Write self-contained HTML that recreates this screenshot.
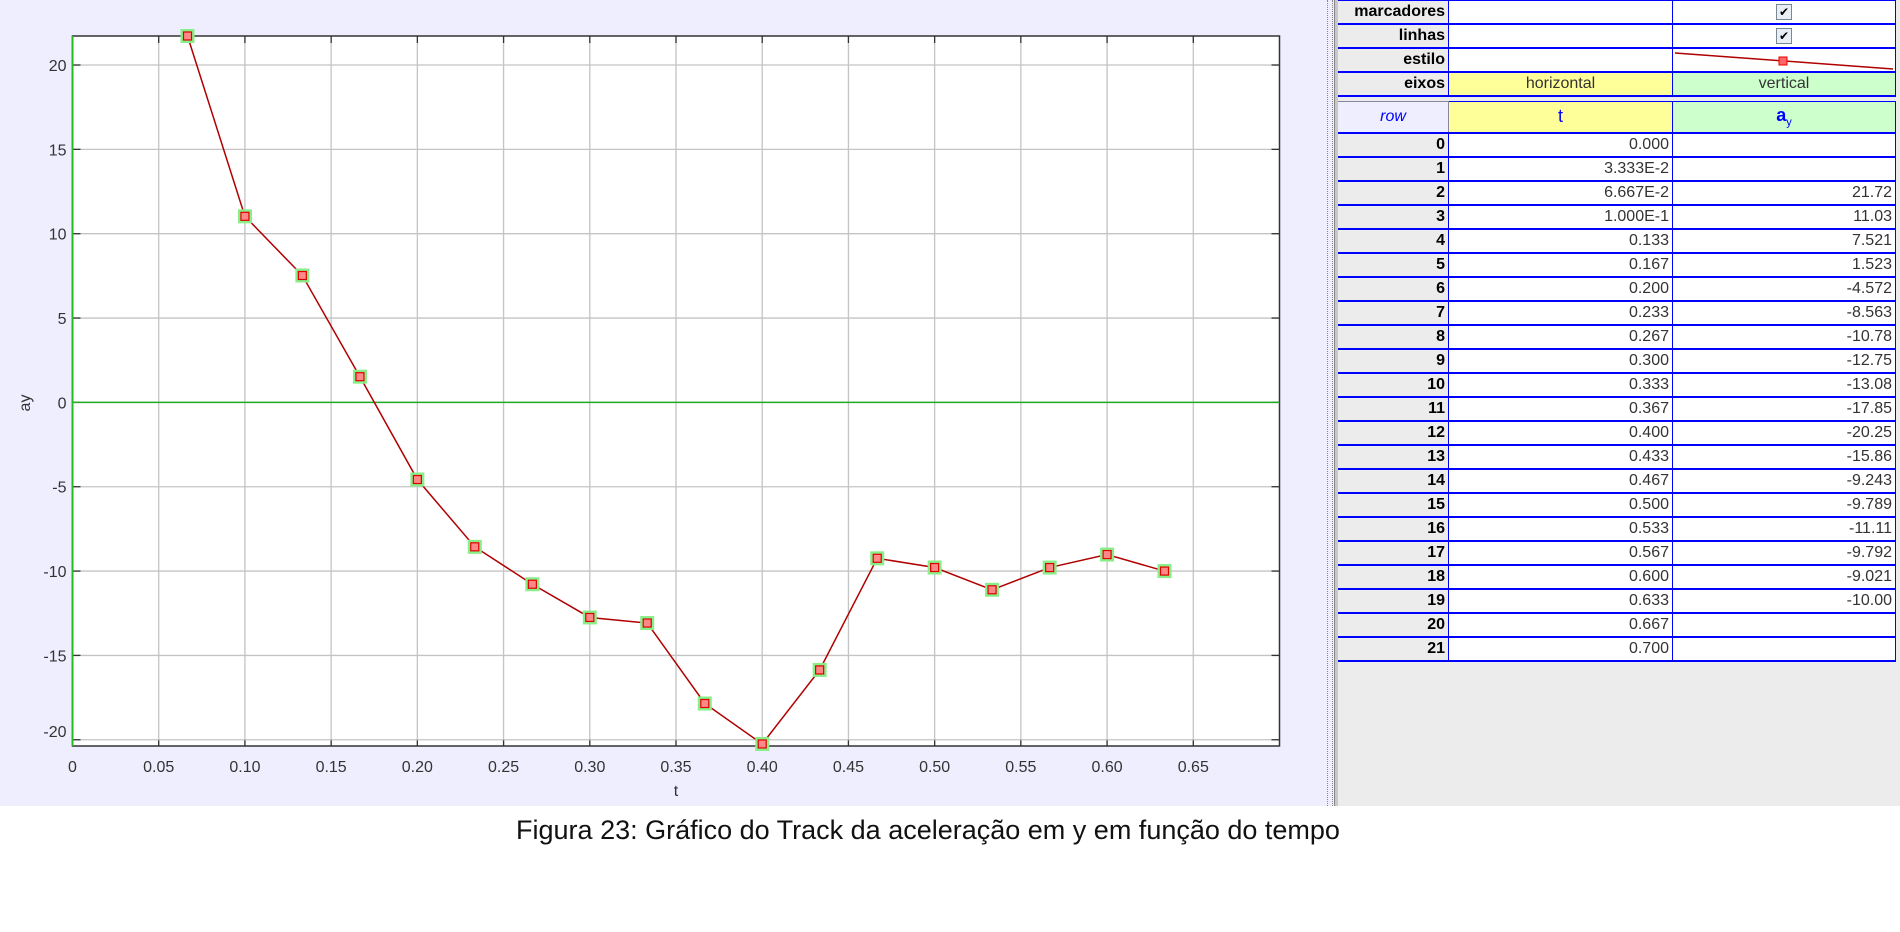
<!DOCTYPE html>
<html><head><meta charset="utf-8">
<style>
body{margin:0;width:1900px;height:932px;background:#fff;position:relative;overflow:hidden;font-family:"Liberation Sans",sans-serif}
#plotbg{position:absolute;left:0;top:0;width:1318px;height:806px;background:#eeeeff}
#split{position:absolute;left:1318px;top:0;width:20px;height:806px;background:#eeeeff}
#split .dots{position:absolute;left:9px;top:0;width:4px;height:806px;border-left:1px dotted #888;border-right:1px dotted #888}
#split .bar{position:absolute;left:16px;top:0;width:4px;height:806px;background:#c8c8c8;border-left:1px solid #888}
#panel{position:absolute;left:1338px;top:0;width:562px;height:806px;background:#ececec}
table{border-collapse:collapse;position:absolute;left:1338px;font-size:16px}
td{padding:0 3px;border:1px solid #00f;white-space:nowrap;overflow:hidden}
#data td{height:22px}
#ctrl td{height:22px;padding-top:0;padding-bottom:0;line-height:20px}
#ctrl{top:0}
#data{top:101px}
.lab{background:#ececec;text-align:right;font-weight:bold;width:104px;border-left:none}
.c1{width:217px;background:#fff}
.c2{width:216px;background:#fff}
tr{border-bottom:2px solid #00f}
#caption{position:absolute;left:0;width:1856px;top:815px;text-align:center;font-size:27px;color:#111}
</style></head><body>
<div id="plotbg"></div>
<svg id="chart" width="1318" height="806" style="position:absolute;left:0;top:0"></svg>
<div id="split"><div class="dots"></div><div class="bar"></div></div>
<div id="panel"></div>
<table id="ctrl">
<tr><td class="lab">marcadores</td><td class="c1"></td><td class="c2" style="text-align:center"><span style="display:inline-block;width:14px;height:14px;border:1px solid #789;background:#e8eef4;font-size:12px;line-height:14px">✔</span></td></tr>
<tr><td class="lab">linhas</td><td class="c1"></td><td class="c2" style="text-align:center"><span style="display:inline-block;width:14px;height:14px;border:1px solid #789;background:#e8eef4;font-size:12px;line-height:14px">✔</span></td></tr>
<tr><td class="lab">estilo</td><td class="c1"></td><td class="c2" style="padding:0"><svg width="222" height="22" style="display:block"><line x1="2" y1="4" x2="220" y2="20" stroke="#b00000" stroke-width="1.5"/><rect x="106" y="8" width="8" height="8" fill="#f66" stroke="#e00"/></svg></td></tr>
<tr><td class="lab">eixos</td><td class="c1" style="background:#ffff99;text-align:center;color:#333">horizontal</td><td class="c2" style="background:#ccffcc;text-align:center;color:#333">vertical</td></tr>
</table>
<table id="data"><tbody id="tb">
<tr style="height:31px"><td class="lab" style="background:#eeeeff;text-align:center;font-weight:normal;font-style:italic;color:#00f;border-color:#889">row</td><td class="c1" style="background:#ffff99;text-align:center;color:#00f;font-size:18px">t</td><td class="c2" style="background:#ccffcc;text-align:center;color:#00f;font-size:18px;font-weight:bold">a<sub style="font-size:11px;font-weight:normal">y</sub></td></tr>
</tbody></table>
<div id="caption">Figura 23: Gráfico do Track da aceleração em y em função do tempo</div>
<script>
const tLabels=["0.000","3.333E-2","6.667E-2","1.000E-1","0.133","0.167","0.200","0.233","0.267","0.300","0.333","0.367","0.400","0.433","0.467","0.500","0.533","0.567","0.600","0.633","0.667","0.700"];
const ayLabels=["","","21.72","11.03","7.521","1.523","-4.572","-8.563","-10.78","-12.75","-13.08","-17.85","-20.25","-15.86","-9.243","-9.789","-11.11","-9.792","-9.021","-10.00","",""];
const tVals=[0.0667,0.1,0.1333,0.1667,0.2,0.2333,0.2667,0.3,0.3333,0.3667,0.4,0.4333,0.4667,0.5,0.5333,0.5667,0.6,0.6333];
const ayVals=[21.72,11.03,7.521,1.523,-4.572,-8.563,-10.78,-12.75,-13.08,-17.85,-20.25,-15.86,-9.243,-9.789,-11.11,-9.792,-9.021,-10.00];
const xTicks=[0,0.05,0.10,0.15,0.20,0.25,0.30,0.35,0.40,0.45,0.50,0.55,0.60,0.65];
const xTickLabels=["0","0.05","0.10","0.15","0.20","0.25","0.30","0.35","0.40","0.45","0.50","0.55","0.60","0.65"];
const yTicks=[20,15,10,5,0,-5,-10,-15,-20];
const L=72.5,R=1279.5,T=36,B=746,XMIN=0,XMAX=0.7,YMAX=21.72,YMIN=-20.37;
const sx=v=>L+(v-XMIN)/(XMAX-XMIN)*(R-L);
const sy=v=>T+(YMAX-v)/(YMAX-YMIN)*(B-T);
const NS="http://www.w3.org/2000/svg",svg=document.getElementById('chart');
function mk(tag,at,parent){const e=document.createElementNS(NS,tag);for(const k in at)e.setAttribute(k,at[k]);(parent||svg).appendChild(e);return e;}
const bg=mk('rect',{x:L,y:T,width:R-L,height:B-T,fill:'#fff'});


xTicks.forEach((v,i)=>{const x=sx(v);
 const g=mk('line',{x1:x,y1:T,x2:x,y2:B,stroke:'#c4c4c4','stroke-width':1.3});
 
 
 mk('line',{x1:x,y1:T,x2:x,y2:T+7,stroke:'#333','stroke-width':1.3});
 mk('line',{x1:x,y1:B,x2:x,y2:B-7,stroke:'#333','stroke-width':1.3});
 const t=mk('text',{x:x,y:B+26,'text-anchor':'middle','font-size':16,fill:'#333','font-family':'Liberation Sans'});t.textContent=xTickLabels[i];
 
 });
yTicks.forEach(v=>{const y=sy(v);
 const g=mk('line',{x1:L,y1:y,x2:R,y2:y,stroke:'#c4c4c4','stroke-width':1.3});
 
 
 mk('line',{x1:L,y1:y,x2:L+8,y2:y,stroke:'#333','stroke-width':1.3});
 mk('line',{x1:R,y1:y,x2:R-8,y2:y,stroke:'#333','stroke-width':1.3});
 const t=mk('text',{x:L-6,y:y+(v===-20?-3:6),'text-anchor':'end','font-size':16,fill:'#333','font-family':'Liberation Sans'});t.textContent=String(v);
 
 });
const fr=mk('rect',{x:L,y:T,width:R-L,height:B-T,fill:'none',stroke:'#333','stroke-width':1.5});


const z=mk('line',{x1:L,y1:sy(0),x2:R,y2:sy(0),stroke:'#22aa22','stroke-width':1.5});


const ya=mk('line',{x1:L,y1:T,x2:L,y2:B,stroke:'#22bb22','stroke-width':2});


const pl=mk('polyline',{points:tVals.map((t,i)=>sx(t)+','+sy(ayVals[i])).join(' '),fill:'none',stroke:'#b00000','stroke-width':1.5});


tVals.forEach((t,i)=>{const x=sx(t),y=sy(ayVals[i]);
 const g=mk('rect',{x:x-7,y:y-7,width:14,height:14,fill:'#88ee88'});
 
 
 const m=mk('rect',{x:x-4,y:y-4,width:8,height:8,fill:'#ff8888',stroke:'#e00000','stroke-width':1.2});
 
 });
const xt=mk('text',{x:676,y:796,'text-anchor':'middle','font-size':16,fill:'#333','font-family':'Liberation Sans'});xt.textContent='t';


const yt=mk('text',{x:0,y:0,transform:'translate(30,403) rotate(-90)','text-anchor':'middle','font-size':16,fill:'#333','font-family':'Liberation Sans'});yt.textContent='ay';


const tb=document.getElementById('tb');
tLabels.forEach((t,i)=>{const tr=document.createElement('tr');tr.style.height='24px';
 
 
 tr.innerHTML='<td class="lab">'+i+'</td><td class="c1" style="text-align:right;color:#333">'+t+'</td><td class="c2" style="text-align:right;color:#333">'+ayLabels[i]+'</td>';
 tb.appendChild(tr);});
</script>
</body></html>
